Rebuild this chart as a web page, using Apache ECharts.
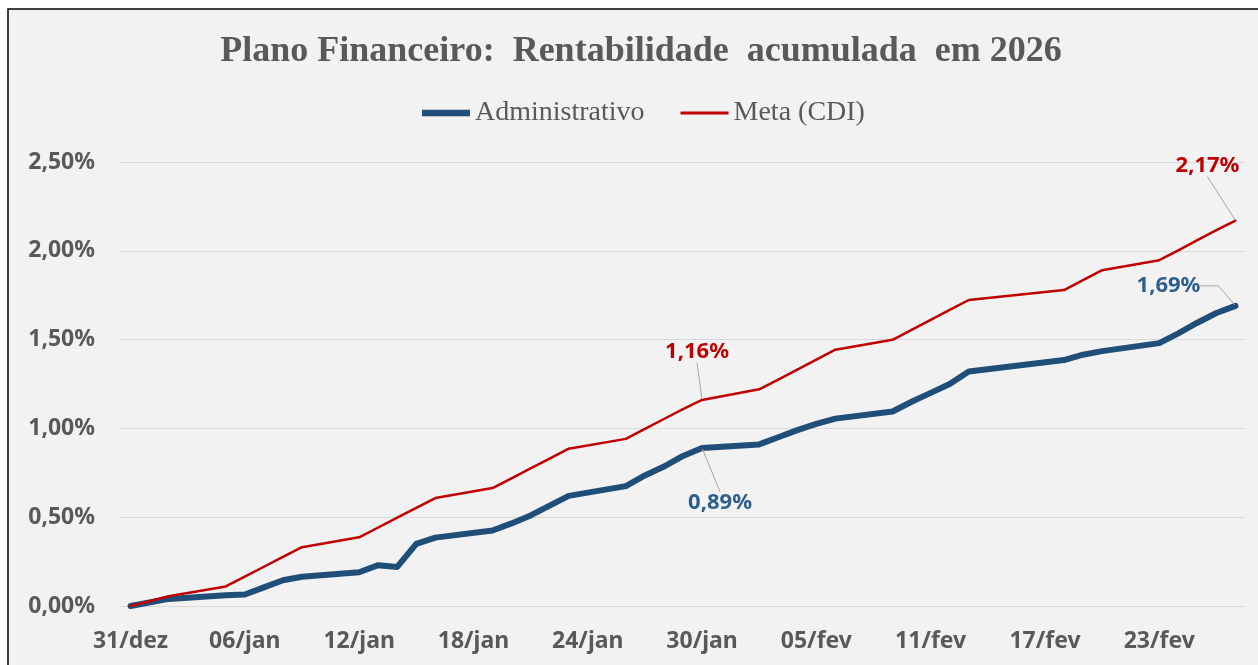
<!DOCTYPE html>
<html>
<head>
<meta charset="utf-8">
<title>Plano Financeiro</title>
<script src="https://cdn.jsdelivr.net/npm/echarts@6/dist/echarts.min.js"></script>
<style>
  html, body { margin: 0; padding: 0; background: #fff; }
  #main { width: 1258px; height: 665px; }
</style>
</head>
<body>
<div id="main"></div>
<script>
// dias com cotação (eixo é de datas corridas)
var diasUteis = ["31/dez", "02/jan", "05/jan", "06/jan", "07/jan", "08/jan", "09/jan",
  "12/jan", "13/jan", "14/jan", "15/jan", "16/jan", "19/jan", "20/jan", "21/jan", "22/jan", "23/jan",
  "26/jan", "27/jan", "28/jan", "29/jan", "30/jan", "02/fev", "03/fev", "04/fev", "05/fev", "06/fev",
  "09/fev", "10/fev", "11/fev", "12/fev", "13/fev", "18/fev", "19/fev", "20/fev",
  "23/fev", "24/fev", "25/fev", "26/fev", "27/fev"];

// rentabilidade acumulada (%)
var administrativo = [0, 0.04, 0.06, 0.065, 0.105, 0.145, 0.165,
  0.19, 0.23, 0.22, 0.35, 0.385, 0.425, 0.465, 0.51, 0.565, 0.62,
  0.675, 0.735, 0.785, 0.845, 0.89, 0.91, 0.95, 0.99, 1.025, 1.055,
  1.095, 1.15, 1.20, 1.25, 1.32, 1.385, 1.415, 1.435,
  1.48, 1.535, 1.595, 1.65, 1.69];

var metaCdi = [0, 0.055, 0.110, 0.165, 0.221, 0.276, 0.331,
  0.387, 0.442, 0.497, 0.553, 0.608, 0.664, 0.719, 0.775, 0.830, 0.886,
  0.941, 0.997, 1.053, 1.108, 1.16, 1.220, 1.275, 1.331, 1.387, 1.443,
  1.499, 1.555, 1.611, 1.667, 1.723, 1.779, 1.835, 1.891,
  1.947, 2.003, 2.060, 2.116, 2.17];

var meses = ["jan", "fev", "mar", "abr", "mai", "jun", "jul", "ago", "set", "out", "nov", "dez"];

// dias com rótulo de dado
var diasRotulo = ["30/jan", "27/fev"];

// todos os dias de 31/dez a 27/fev
var dias = [];
var d = new Date(2025, 11, 31);
var fim = new Date(2026, 1, 27);
while (d <= fim) {
  dias.push(("0" + d.getDate()).slice(-2) + "/" + meses[d.getMonth()]);
  d.setDate(d.getDate() + 1);
}

function fmt(v) {
  return v.toFixed(2).replace(".", ",") + "%";
}

function montaSerie(valores, corTexto, elbow) {
  var arr = dias.map(function () { return "-"; });
  diasUteis.forEach(function (dia, i) {
    var item = { value: valores[i] };
    if (diasRotulo.indexOf(dia) >= 0) {
      item.label = { show: true, color: corTexto };
      item.labelLine = { show: true, length2: elbow && dia == "27/fev" ? 18 : 0 };
    }
    arr[dias.indexOf(dia)] = item;
  });
  return arr;
}

// deslocamento dos rótulos (em px, a partir do ponto)
function desloca(mapa) {
  return function (params) {
    var m = mapa[dias[params.dataIndex]];
    return m ? { dx: m[0], dy: m[1] } : {};
  };
}

var fonteNum = "'Noto Sans', 'DejaVu Sans', sans-serif";
var fonteSerif = "'Liberation Serif', 'DejaVu Serif', serif";

var myChart = echarts.init(document.getElementById("main"));
var option = {
  backgroundColor: "#ffffff",
  animation: false,
  graphic: [{
    type: "rect",
    z: -10,
    silent: true,
    shape: { x: 8, y: 9, width: 1300, height: 700 },
    style: { fill: "#f2f2f2", stroke: "#000000", lineWidth: 1.5 }
  }],
  title: {
    text: "Plano Financeiro:  Rentabilidade  acumulada  em 2026",
    left: 641,
    top: 34,
    padding: 0,
    textAlign: "center",
    textStyle: { fontFamily: fonteSerif, fontWeight: "bold", fontSize: 36, color: "#595959" }
  },
  legend: {
    left: 422,
    top: 99,
    padding: 0,
    itemWidth: 48,
    itemHeight: 14,
    itemGap: 36,
    textStyle: { fontFamily: fonteSerif, fontSize: 28, color: "#595959" },
    data: [
      { name: "Administrativo", icon: "path://M0,0H50V7H0Z" },
      { name: "Meta (CDI)", icon: "path://M0,0H50V3H0Z" }
    ]
  },
  grid: { left: 121, right: 13, top: 162, bottom: 59 },
  xAxis: {
    type: "category",
    data: dias,
    boundaryGap: true,
    axisTick: { show: false },
    axisLine: { show: true, lineStyle: { color: "#d9d9d9" } },
    axisLabel: {
      interval: 5,
      margin: 24,
      color: "#595959",
      fontFamily: fonteNum,
      fontWeight: "bold",
      fontSize: 23
    }
  },
  yAxis: {
    type: "value",
    min: 0,
    max: 2.5,
    interval: 0.5,
    axisLine: { show: false },
    axisTick: { show: false },
    splitLine: { lineStyle: { color: "#d9d9d9", width: 1 } },
    axisLabel: {
      margin: 26,
      color: "#595959",
      fontFamily: fonteNum,
      fontWeight: "bold",
      fontSize: 23,
      formatter: fmt
    }
  },
  series: [
    {
      name: "Administrativo",
      type: "line",
      data: montaSerie(administrativo, "#2e5f8c", true),
      connectNulls: true,
      symbol: "circle",
      symbolSize: 2,
      showAllSymbol: true,
      silent: true,
      itemStyle: { color: "#1f4e79" },
      lineStyle: { color: "#1f4e79", width: 6, cap: "round", join: "round" },
      label: {
        show: false,
        position: "inside",
        fontFamily: fonteNum,
        fontWeight: "bold",
        fontSize: 22,
        formatter: function (p) { return fmt(p.value); }
      },
      labelLayout: desloca({ "30/jan": [18, 55], "27/fev": [-67, -20] }),
      labelLine: { lineStyle: { color: "#a6a6a6", width: 1 } },
      emphasis: { disabled: true }
    },
    {
      name: "Meta (CDI)",
      type: "line",
      data: montaSerie(metaCdi, "#c00000", false),
      connectNulls: true,
      symbol: "circle",
      symbolSize: 2,
      showAllSymbol: true,
      silent: true,
      itemStyle: { color: "#c00000" },
      lineStyle: { color: "#c00000", width: 2.5, join: "round" },
      label: {
        show: false,
        position: "inside",
        fontFamily: fonteNum,
        fontWeight: "bold",
        fontSize: 22,
        formatter: function (p) { return fmt(p.value); }
      },
      labelLayout: desloca({ "30/jan": [-5, -48], "27/fev": [-28, -55] }),
      labelLine: { lineStyle: { color: "#a6a6a6", width: 1 } },
      emphasis: { disabled: true }
    }
  ]
};
myChart.setOption(option);
</script>
</body>
</html>
